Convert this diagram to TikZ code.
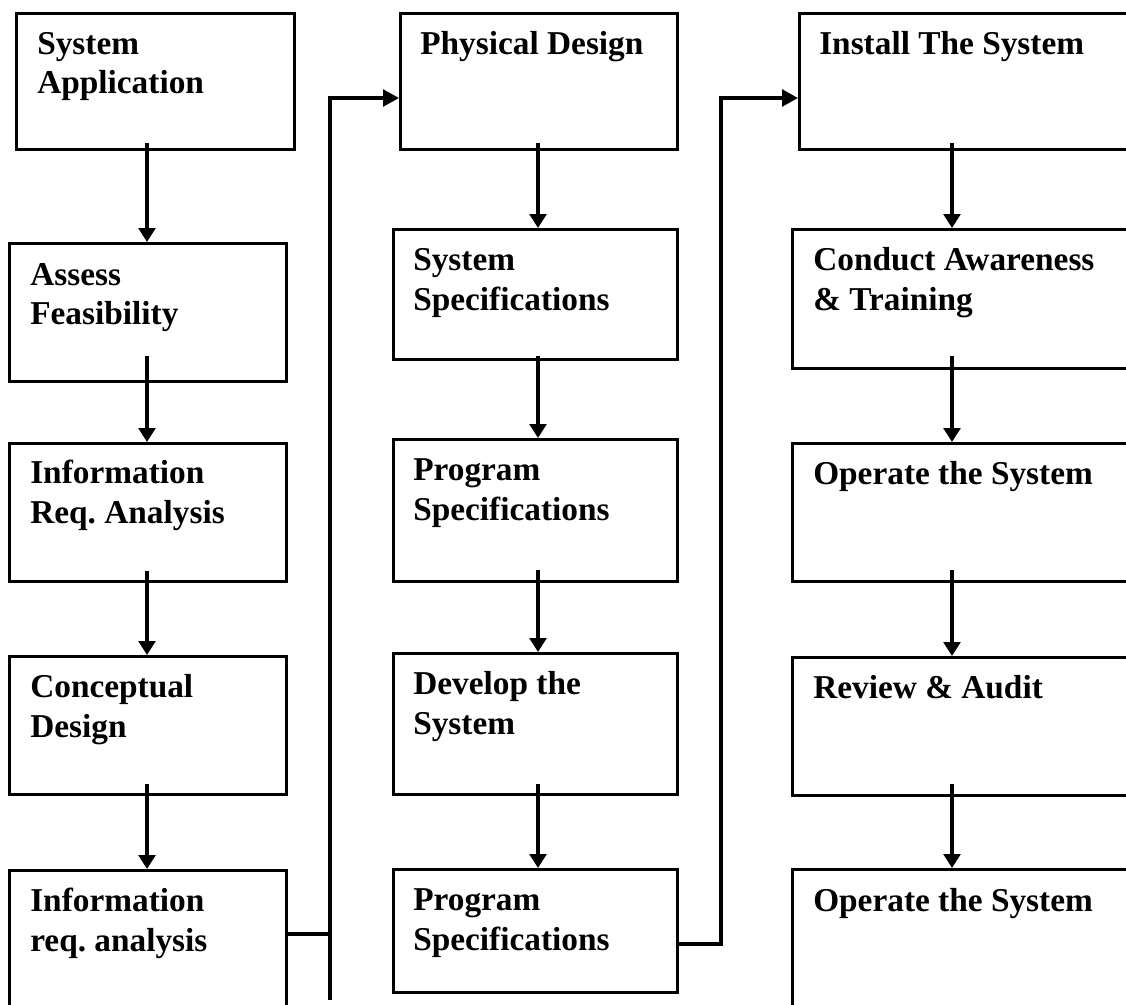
\documentclass[tikz,border=0pt]{standalone}
\usepackage{fontspec}
\setmainfont{Liberation Serif}
\usetikzlibrary{arrows.meta,calc}
\frenchspacing
\begin{document}
\begin{tikzpicture}[x=0.75pt,y=-0.75pt,
  box/.style={draw, line width=2.25pt, inner sep=0pt, anchor=north west},
  lbl/.style={anchor=base west, inner sep=0pt, font=\fontsize{25}{30}\selectfont\bfseries},
  arr/.style={line width=3pt, -{Triangle[length=10.5pt,width=12.5pt]}},
  route/.style={line width=2.6pt},
  routearr/.style={line width=2.6pt, -{Triangle[length=12pt,width=12.5pt]}}]
\useasboundingbox (0,0) rectangle (1126,1004);
\clip (0,0) rectangle (1126,1004);
% ---- left column
\node[box, minimum width=278*0.75pt, minimum height=136*0.75pt] (L1) at (15,12) {};
\node[box, minimum width=277*0.75pt, minimum height=138*0.75pt] (L2) at (8,242) {};
\node[box, minimum width=277*0.75pt, minimum height=138*0.75pt] (L3) at (8,442) {};
\node[box, minimum width=277*0.75pt, minimum height=138*0.75pt] (L4) at (8,655) {};
\node[box, minimum width=277*0.75pt, minimum height=170*0.75pt] (L5) at (8,869) {};
% ---- middle column
\node[box, minimum width=277*0.75pt, minimum height=136*0.75pt] (M1) at (399,12) {};
\node[box, minimum width=284*0.75pt, minimum height=130*0.75pt] (M2) at (392,228) {};
\node[box, minimum width=284*0.75pt, minimum height=142*0.75pt] (M3) at (392,438) {};
\node[box, minimum width=284*0.75pt, minimum height=141*0.75pt] (M4) at (392,652) {};
\node[box, minimum width=284*0.75pt, minimum height=123*0.75pt] (M5) at (392,868) {};
% ---- right column
\node[box, minimum width=350*0.75pt, minimum height=136*0.75pt] (R1) at (798,12) {};
\node[box, minimum width=357*0.75pt, minimum height=139*0.75pt] (R2) at (791,228) {};
\node[box, minimum width=357*0.75pt, minimum height=138*0.75pt] (R3) at (791,442) {};
\node[box, minimum width=357*0.75pt, minimum height=138*0.75pt] (R4) at (791,656) {};
\node[box, minimum width=357*0.75pt, minimum height=170*0.75pt] (R5) at (791,868) {};
% ---- labels
\node[lbl] (t1a) at (37,54) {System};
\node[lbl] (t1b) at (37,93) {Application};
\node[lbl] (t2a) at (30,285) {Assess};
\node[lbl] (t2b) at (30,324) {Feasibility};
\node[lbl] (t3a) at (30,483) {Information};
\node[lbl] (t3b) at (30,523) {Req. Analysis};
\node[lbl] (t4a) at (30,697) {Conceptual};
\node[lbl] (t4b) at (30,737) {Design};
\node[lbl] (t5a) at (30,911) {Information};
\node[lbl] (t5b) at (30,951) {req. analysis};
\node[lbl] (m1a) at (420,54) {Physical Design};
\node[lbl] (m2a) at (413,270) {System};
\node[lbl] (m2b) at (413,310) {Specifications};
\node[lbl] (m3a) at (413,480) {Program};
\node[lbl] (m3b) at (413,520) {Specifications};
\node[lbl] (m4a) at (413,694) {Develop the};
\node[lbl] (m4b) at (413,734) {System};
\node[lbl] (m5a) at (413,910) {Program};
\node[lbl] (m5b) at (413,950) {Specifications};
\node[lbl] (r1a) at (819,54) {Install The System};
\node[lbl] (r2a) at (813,270) {Conduct Awareness};
\node[lbl] (r2b) at (813,310) {\& Training};
\node[lbl] (r3a) at (813,484) {Operate the System};
\node[lbl] (r4a) at (813,698) {Review \& Audit};
\node[lbl] (r5a) at (813,911) {Operate the System};
% ---- column arrow positions
\coordinate (xl) at (147,0);
\coordinate (xm) at (538,0);
\coordinate (xr) at (952,0);
% left arrows
\draw[arr] ($(xl |- L1.south)+(0,-8)$) -- (xl |- L2.north);
\draw[arr] ($(xl |- L2.south)+(0,-27)$) -- (xl |- L3.north);
\draw[arr] ($(xl |- L3.south)+(0,-12)$) -- (xl |- L4.north);
\draw[arr] ($(xl |- L4.south)+(0,-12)$) -- (xl |- L5.north);
% middle arrows
\draw[arr] ($(xm |- M1.south)+(0,-8)$) -- (xm |- M2.north);
\draw[arr] ($(xm |- M2.south)+(0,-5)$) -- (xm |- M3.north);
\draw[arr] ($(xm |- M3.south)+(0,-13)$) -- (xm |- M4.north);
\draw[arr] ($(xm |- M4.south)+(0,-12)$) -- (xm |- M5.north);
% right arrows
\draw[arr] ($(xr |- R1.south)+(0,-8)$) -- (xr |- R2.north);
\draw[arr] ($(xr |- R2.south)+(0,-14)$) -- (xr |- R3.north);
\draw[arr] ($(xr |- R3.south)+(0,-13)$) -- (xr |- R4.north);
\draw[arr] ($(xr |- R4.south)+(0,-13)$) -- (xr |- R5.north);
% routed connectors
\coordinate (c1j) at (330,934);
\coordinate (c1b) at (330,1000);
\coordinate (c1t) at (330,98);
\draw[route] (L5.east |- c1j) -- (c1j);
\draw[routearr] (c1b) -- (c1t) -- (M1.west |- c1t);
\coordinate (c2j) at (721,944);
\coordinate (c2t) at (721,98);
\draw[routearr] (M5.east |- c2j) -- (c2j) -- (c2t) -- (R1.west |- c2t);
\end{tikzpicture}
\end{document}
